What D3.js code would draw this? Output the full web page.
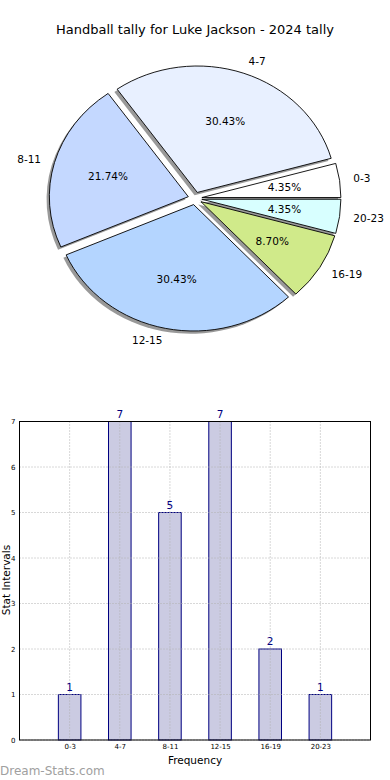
<!DOCTYPE html>
<html><head><meta charset="utf-8">
<script src="https://cdn.jsdelivr.net/npm/d3@7"></script>
<style>body{margin:0;background:#fff}svg{display:block;font-family:"DejaVu Sans",sans-serif}</style>
</head><body><svg id="c" width="390" height="780"></svg>
<script>
const categories = ["0-3","4-7","8-11","12-15","16-19","20-23"];
const values = [1,7,5,7,2,1];
const sliceColors = ["#ffffff","#e8f0ff","#c4d8ff","#b4d5ff","#d0ea8a","#d8ffff"];
const yTicks = [0,1,2,3,4,5,6,7];
const title = "Handball tally for Luke Jackson - 2024 tally";

const svg = d3.select("#c");
svg.append("rect").attr("width",390).attr("height",780).attr("fill","#fff");

// title
svg.append("text").attr("x",195).attr("y",34).attr("text-anchor","middle")
  .attr("font-size",13).attr("fill","#000").text(title);

// ---- pie (matplotlib style, non-equal aspect -> ellipse)
const cx = 195, cy = 198.4, rx = 139, ry = 126.4, explode = 0.05;
const total = d3.sum(values);
const pie = d3.pie().sort(null).startAngle(Math.PI/2).endAngle(Math.PI/2 - 2*Math.PI);
const arcs = pie(values);
const arc = d3.arc().innerRadius(0).outerRadius(1);
const mathMid = a => Math.PI/2 - (a.startAngle + a.endAngle)/2;

const pg = svg.append("g").attr("transform",`translate(${cx},${cy}) scale(${rx},${ry})`);
// shadows
pg.selectAll("path.sh").data(arcs).join("path").attr("class","sh")
  .attr("d",arc)
  .attr("transform",d=>{const t=mathMid(d);return `translate(${explode*Math.cos(t)-0.02},${-explode*Math.sin(t)+0.022})`;})
  .attr("fill","#000").attr("fill-opacity",0.4).attr("stroke","none");
pg.selectAll("path.sl").data(arcs).join("path").attr("class","sl")
  .attr("d",arc)
  .attr("transform",d=>{const t=mathMid(d);return `translate(${explode*Math.cos(t)},${-explode*Math.sin(t)})`;})
  .attr("fill",(d,i)=>sliceColors[i]).attr("stroke","#000").attr("stroke-width",0.9)
  .attr("vector-effect","non-scaling-stroke").attr("stroke-linejoin","round");

// labels
arcs.forEach((d,i)=>{
  const t = mathMid(d), c = Math.cos(t), s = Math.sin(t);
  const lx = cx + rx*(explode+1.1)*c, ly = cy - ry*(explode+1.1)*s;
  svg.append("text").attr("x",lx).attr("y",ly).attr("dy","0.35em")
    .attr("text-anchor", c>0 ? "start" : "end").attr("font-size",10.5).attr("fill","#000")
    .text(categories[i]);
  const px = cx + rx*(explode+0.6)*c, py = cy - ry*(explode+0.6)*s;
  svg.append("text").attr("x",px).attr("y",py).attr("dy","0.35em")
    .attr("text-anchor","middle").attr("font-size",10.5).attr("fill","#000")
    .text((values[i]/total*100).toFixed(2)+"%");
});

// ---- bar chart
const L = 19.5, R = 370.5, T = 421.5, B = 740;
const x = d3.scaleLinear().domain([-1,6]).range([L,R]);
const y = d3.scaleLinear().domain([0,7]).range([B,T]);
const bw = 0.45;
const bg = svg.append("g");
bg.selectAll("rect.bar").data(values).join("rect").attr("class","bar")
  .attr("x",(d,i)=>x(i-bw/2)).attr("width",x(bw)-x(0))
  .attr("y",d=>y(d)).attr("height",d=>y(0)-y(d))
  .attr("fill","#cbcbe2").attr("stroke","#000080").attr("stroke-width",1);
// grid
bg.selectAll("line.gy").data(yTicks).join("line").attr("class","gy")
  .attr("x1",L).attr("x2",R).attr("y1",d=>y(d)).attr("y2",d=>y(d))
  .attr("stroke","#b0b0b0").attr("stroke-width",1).attr("stroke-dasharray","1,2");
bg.selectAll("line.gx").data(categories).join("line").attr("class","gx")
  .attr("x1",(d,i)=>x(i)).attr("x2",(d,i)=>x(i)).attr("y1",T).attr("y2",B)
  .attr("stroke","#b0b0b0").attr("stroke-width",1).attr("stroke-dasharray","1,2");
// value labels
bg.selectAll("text.v").data(values).join("text").attr("class","v")
  .attr("x",(d,i)=>x(i)).attr("y",d=>y(d)-4).attr("text-anchor","middle")
  .attr("font-size",10.5).attr("fill","#000080").text(d=>d);
// frame
bg.append("rect").attr("x",L).attr("y",T).attr("width",R-L).attr("height",B-T)
  .attr("fill","none").attr("stroke","#000").attr("stroke-width",1);
// axes tick labels
const yAxis = d3.axisLeft(y).tickValues(yTicks).tickFormat(d3.format("d")).tickSize(0).tickPadding(4);
const ya = svg.append("g").attr("transform",`translate(${L},0)`).call(yAxis);
ya.select(".domain").remove();
ya.selectAll("text").attr("font-size",7).attr("font-family","DejaVu Sans").attr("fill","#000");
const xAxis = d3.axisBottom(x).tickValues(d3.range(categories.length)).tickFormat(i=>categories[i]).tickSize(0).tickPadding(4);
const xa = svg.append("g").attr("transform",`translate(0,${B})`).call(xAxis);
xa.select(".domain").remove();
xa.selectAll("text").attr("font-size",7).attr("font-family","DejaVu Sans").attr("fill","#000");

svg.append("text").attr("x",195).attr("y",764).attr("text-anchor","middle")
  .attr("font-size",10.5).attr("fill","#000").text("Frequency");
svg.append("text").attr("transform","translate(9.5,580) rotate(-90)").attr("text-anchor","middle")
  .attr("font-size",10.5).attr("fill","#000").text("Stat Intervals");
svg.append("text").attr("x",0).attr("y",775).attr("font-size",12).attr("fill","#a0a0a0")
  .text("Dream-Stats.com");
</script></body></html>
